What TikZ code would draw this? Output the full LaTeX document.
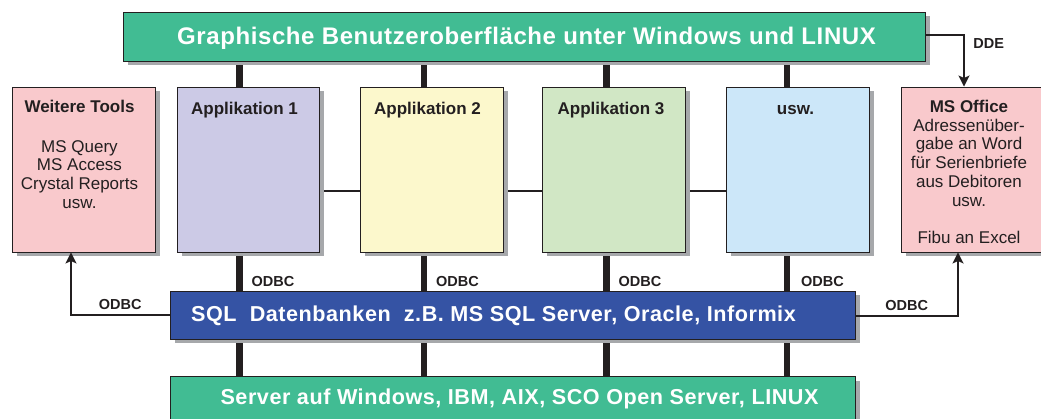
\documentclass[tikz,border=0pt]{standalone}
\usepackage{fontspec}
\setmainfont{Liberation Sans}
\newfontfamily\widesans{Liberation Sans}[LetterSpace=2.5]
\usetikzlibrary{positioning,arrows.meta,shadows,backgrounds}
\tikzset{>={Stealth[length=11pt,width=11pt,inset=2.5pt]}}

\definecolor{guigreen}{HTML}{41BC93}
\definecolor{sqlblue}{HTML}{3553A4}
\definecolor{toolpink}{HTML}{F9C9CC}
\definecolor{applila}{HTML}{CCCAE6}
\definecolor{appyellow}{HTML}{FCF8CC}
\definecolor{appgreen}{HTML}{D1E7C5}
\definecolor{appblue}{HTML}{CCE7F9}
\definecolor{shadowgray}{HTML}{A6A8AB}
\definecolor{inkblack}{HTML}{231F20}

\tikzset{
  box/.style={draw=inkblack, line width=.9pt, inner sep=0pt,
    drop shadow={shadow xshift=4.5pt, shadow yshift=-4.5pt, fill=shadowgray, opacity=1}},
  bar/.style={line width=6.5pt, draw=inkblack},
  link/.style={line width=2.5pt, draw=inkblack},
  arrow/.style={line width=2.8pt, draw=inkblack, ->},
  tag/.style={font=\bfseries\fontsize{14.5}{16}\selectfont, text=inkblack, inner sep=0pt},
  bigtext/.style={font=\widesans\bfseries\fontsize{#1}{#1}\selectfont, text=white, inner sep=0pt, anchor=base},
  apptext/.style={font=\bfseries\fontsize{17}{18.6}\selectfont, text=inkblack, inner sep=0pt, anchor=base},
  boxtext/.style={font=\fontsize{17}{18.7}\selectfont, text=inkblack, inner sep=0pt, anchor=north, align=center}
}

\begin{document}
\begin{tikzpicture}[x=1pt,y=-1pt]
\useasboundingbox (0,0) rectangle (1041,419);
\clip (0,0) rectangle (1041,419);

% boxes
\node[box, fill=guigreen, minimum width=802pt, minimum height=49pt] (gui) at (524,36.5) {};
\node[box, fill=toolpink, minimum width=143pt, minimum height=165pt] (tools) at (83.5,169.5) {};
\node[box, fill=applila, minimum width=142pt, minimum height=165pt] (app1) at (248,169.5) {};
\node[box, fill=appyellow, minimum width=143pt, minimum height=165pt] (app2) at (431.5,169.5) {};
\node[box, fill=appgreen, minimum width=143pt, minimum height=165pt] (app3) at (613.5,169.5) {};
\node[box, fill=appblue, minimum width=143pt, minimum height=165pt] (usw) at (797.5,169.5) {};
\node[box, fill=toolpink, minimum width=143pt, minimum height=165pt] (office) at (972.5,169.5) {};
\node[box, fill=sqlblue, minimum width=685pt, minimum height=48pt] (sql) at (512.5,315) {};
\node[box, fill=guigreen, minimum width=685pt, minimum height=44pt] (server) at (512.5,398) {};

% texts
\node[bigtext=24] (gui-t) at ([xshift=2.5pt,yshift=-8.5pt]gui.center) {Graphische Benutzeroberfläche unter Windows und LINUX};
\node[bigtext=21.6] (sql-t) at ([xshift=-19pt,yshift=-7pt]sql.center) {SQL\ \ Datenbanken\ \ z.B. MS SQL Server, Oracle, Informix};
\node[bigtext=21.6] (server-t) at ([xshift=7pt,yshift=-6pt]server.center) {Server auf Windows, IBM, AIX, SCO Open Server, LINUX};
\node[apptext] (app1-t) at ([xshift=-3.5pt,yshift=-28pt]app1.north) {Applikation 1};
\node[apptext] (app2-t) at ([xshift=-4pt,yshift=-28pt]app2.north) {Applikation 2};
\node[apptext] (app3-t) at ([xshift=-2.5pt,yshift=-28pt]app3.north) {Applikation 3};
\node[apptext] (usw-t) at ([xshift=-2pt,yshift=-28pt]usw.north) {usw.};
\node[boxtext] (tools-t) at ([xshift=-4pt,yshift=-13.5pt]tools.north)
  {\textbf{Weitere Tools}\\[21pt] MS Query\\ MS Access\\ Crystal Reports\\ usw.};
\node[boxtext] (office-t) at ([xshift=-3.5pt,yshift=-13.5pt]office.north)
  {\textbf{MS Office}\\ Adressenüber-\\ gabe an Word\\ für Serienbriefe\\ aus Debitoren\\ usw.\\[18.7pt] Fibu an Excel};

% bars behind the boxes
\coordinate (b1) at ([xshift=-8.5pt]app1.center);
\coordinate (b2) at ([xshift=-7.5pt]app2.center);
\coordinate (b3) at ([xshift=-7pt]app3.center);
\coordinate (b4) at ([xshift=-10.5pt]usw.center);
\begin{scope}[on background layer]
\draw[bar] (b1 |- gui.south) -- (b1 |- server.north);
\draw[bar] (b2 |- gui.south) -- (b2 |- server.north);
\draw[bar] (b3 |- gui.south) -- (b3 |- server.north);
\draw[bar] (b4 |- gui.south) -- (b4 |- server.north);
\draw[link] ([yshift=-21.5pt]app1.east) -- ([yshift=-21.5pt]app2.west);
\draw[link] ([yshift=-21.5pt]app2.east) -- ([yshift=-21.5pt]app3.west);
\draw[link] ([yshift=-21.5pt]app3.east) -- ([yshift=-21.5pt]usw.west);
\end{scope}
\path (b1 |- app1.south) -- node[tag, pos=.75, anchor=west, xshift=12pt] (odbc1) {ODBC} (b1 |- sql.north);
\path (b2 |- app2.south) -- node[tag, pos=.75, anchor=west, xshift=12pt] (odbc2) {ODBC} (b2 |- sql.north);
\path (b3 |- app3.south) -- node[tag, pos=.75, anchor=west, xshift=12pt] (odbc3) {ODBC} (b3 |- sql.north);
\path (b4 |- usw.south) -- node[tag, pos=.75, anchor=west, xshift=14pt] (odbc4) {ODBC} (b4 |- sql.north);

% arrows
\coordinate (tl) at ([xshift=-12.5pt]tools.south);
\coordinate (ol) at ([xshift=-14.5pt]office.south);
\coordinate (ot) at ([xshift=-8.5pt]office.north);
\draw[arrow] (sql.west) -| node[tag, pos=.25, above=4pt] (odbc-l) {ODBC} (tl);
\draw[arrow] ([yshift=-1pt]sql.east) -| node[tag, pos=.25, above=4pt] (odbc-r) {ODBC} (ol);
\draw[arrow] ([yshift=1.5pt]gui.east) -| node[tag, pos=.58, right=8pt] (dde) {DDE} (ot);
\end{tikzpicture}
\end{document}
